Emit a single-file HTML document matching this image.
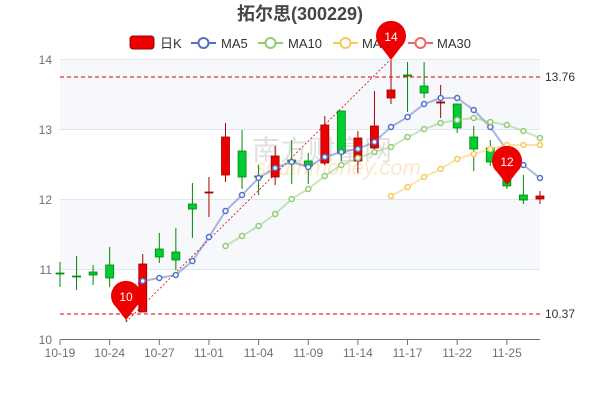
<!DOCTYPE html>
<html><head><meta charset="utf-8"><style>
body{margin:0;background:#fff;width:600px;height:400px;overflow:hidden}
svg{display:block;font-family:"Liberation Sans","Noto Sans CJK SC",sans-serif}
</style></head><body>
<svg id="s" width="600" height="400" viewBox="0 0 600 400">
<rect x="60" y="59" width="480" height="70" fill="#f6f8fc"/>
<rect x="60" y="199" width="480" height="70" fill="#f6f8fc"/>
<g stroke="#e0e6f1" stroke-width="1">
<line x1="60" y1="59.5" x2="540" y2="59.5"/><line x1="60" y1="129.5" x2="540" y2="129.5"/>
<line x1="60" y1="199.5" x2="540" y2="199.5"/><line x1="60" y1="269.5" x2="540" y2="269.5"/>
</g>
<text x="252" y="160" font-size="28" fill="#ccc" opacity="0.6">南方财富网</text>
<text x="255" y="175" font-size="22" fill="#fbd9a8" opacity="0.6" font-style="italic">southmoney.com</text>
<line x1="60" y1="339.5" x2="540" y2="339.5" stroke="#6e7079"/>
<g font-size="12" fill="#6e7079" text-anchor="end">
<text x="52" y="64">14</text><text x="52" y="134">13</text><text x="52" y="204">12</text><text x="52" y="274">11</text><text x="52" y="344">10</text>
</g>
<g id="xl" font-size="12" fill="#6e7079" text-anchor="middle"></g>
<line x1="60" y1="77" x2="540" y2="77" stroke="#d00" stroke-dasharray="4,3"/>
<line x1="60" y1="314" x2="540" y2="314" stroke="#d00" stroke-dasharray="4,3"/>
<text x="545" y="81" font-size="12" fill="#333">13.76</text>
<text x="545" y="318" font-size="12" fill="#333">10.37</text>
<line x1="126" y1="322" x2="390" y2="60" stroke="#d00" stroke-width="0.8" stroke-dasharray="2,2"/>
<g id="c"></g><g id="m"></g>
<text x="300" y="20" font-size="18" font-weight="bold" fill="#464646" text-anchor="middle">拓尔思(300229)</text>
<g font-size="13" fill="#333">
<rect x="130" y="36" width="24" height="13" rx="3" fill="#e00" stroke="#900"/><text x="160" y="48">日K</text>
<line x1="191" y1="43" x2="216" y2="43" stroke="#5470c6" stroke-width="2"/><circle cx="203.5" cy="43" r="5" fill="#fff" stroke="#5470c6" stroke-width="2"/><text x="221" y="48">MA5</text>
<line x1="258" y1="43" x2="283" y2="43" stroke="#91cc75" stroke-width="2"/><circle cx="270.5" cy="43" r="5" fill="#fff" stroke="#91cc75" stroke-width="2"/><text x="288" y="48">MA10</text>
<line x1="333" y1="43" x2="358" y2="43" stroke="#fac858" stroke-width="2"/><circle cx="345.5" cy="43" r="5" fill="#fff" stroke="#fac858" stroke-width="2"/><text x="362" y="48">MA20</text>
<line x1="408" y1="43" x2="433" y2="43" stroke="#ee6666" stroke-width="2"/><circle cx="420.5" cy="43" r="5" fill="#fff" stroke="#ee6666" stroke-width="2"/><text x="437" y="48">MA30</text>
</g>
<g id="p"></g>
</svg>
<script>
var X=i=>60+16.55*i,NS="http://www.w3.org/2000/svg";
function el(g,t,a,txt){var e=document.createElementNS(NS,t);for(var k in a)e.setAttribute(k,a[k]);if(txt)e.textContent=txt;document.getElementById(g).appendChild(e);return e;}
var labs=["10-19","10-24","10-27","11-01","11-04","11-09","11-14","11-17","11-22","11-25"];
labs.forEach((l,j)=>{var x=X(j*3);el("xl","text",{x:x,y:357},l);el("xl","line",{x1:x,y1:340,x2:x,y2:345,stroke:"#6e7079"});});
// [up?, bodyTop, bodyBot, wickTop, wickBot]
var C=[[0,273,274,262,287],[0,276,277,256,290],[0,272,275,265,285],[0,265,278,247,287],[0,313,315,313,322],
[1,264,312,254,312],[0,249,257,233,263],[0,252,260,228,270],[0,204,209,183,238],[1,192,193,177,217],
[1,137,175,123,182],[0,151,177,130,189],[0,176,177,165,195],[1,156,177,146,185],[0,160,162,140,184],
[0,161,166,153,184],[1,125,163,116,165],[0,111,153,111,161],[1,138,161,131,173],[1,126,148,91,150],
[1,90,98,60,104],[0,75,76,62,112],[0,86,93,62,98],[1,102,103,85,118],[0,104,128,104,133],
[0,137,149,126,171],[0,148,162,140,166],[0,163,186,163,189],[0,195,200,175,204],[1,196,199,191,204]];
C.forEach((c,i)=>{var x=X(i),col=c[0]?"#e00":"#0c3",st=c[0]?"#900":"#080";
el("c","line",{x1:x,y1:c[3],x2:x,y2:c[4],stroke:c[0]?"#a00":"#080"});
el("c","rect",{x:x-4,y:c[1],width:8,height:Math.max(1,c[2]-c[1]),fill:col,stroke:st,"stroke-width":0.8});});
function ma(s,ys,col){var pts=ys.map((y,k)=>X(s+k)+","+y).join(" ");
el("m","polyline",{points:pts,fill:"none",stroke:col,"stroke-width":2,opacity:0.5,"stroke-linejoin":"round"});
ys.forEach((y,k)=>el("m","circle",{cx:X(s+k),cy:y,r:2.5,fill:"#fff",stroke:col,"stroke-width":1.5}));}
ma(5,[281,278,275,261,237,211,195,178,168,162,167,157,152,149,142,127,117,104,98,98,110,127,150,165,178],"#5470c6");
ma(10,[246,236,226,214,199,189,176,165,158,152,147,137,129,123,120,118,122,125,131,138],"#91cc75");
ma(20,[196,187,177,169,159,154,149,145,145,145],"#fac858");
function pin(x,tip,t){var cy=tip-24,r=15;
el("p","path",{d:"M"+x+","+tip+" L"+(x-10)+","+(cy+11)+" A"+r+","+r+" 0 1 1 "+(x+10)+","+(cy+11)+" Z",fill:"#e00"});
el("p","text",{x:x,y:cy+5,"font-size":12,fill:"#fff","text-anchor":"middle"},t);}
pin(126,320,"10");pin(391,60,"14");pin(507,185,"12");
</script>
</body></html>
